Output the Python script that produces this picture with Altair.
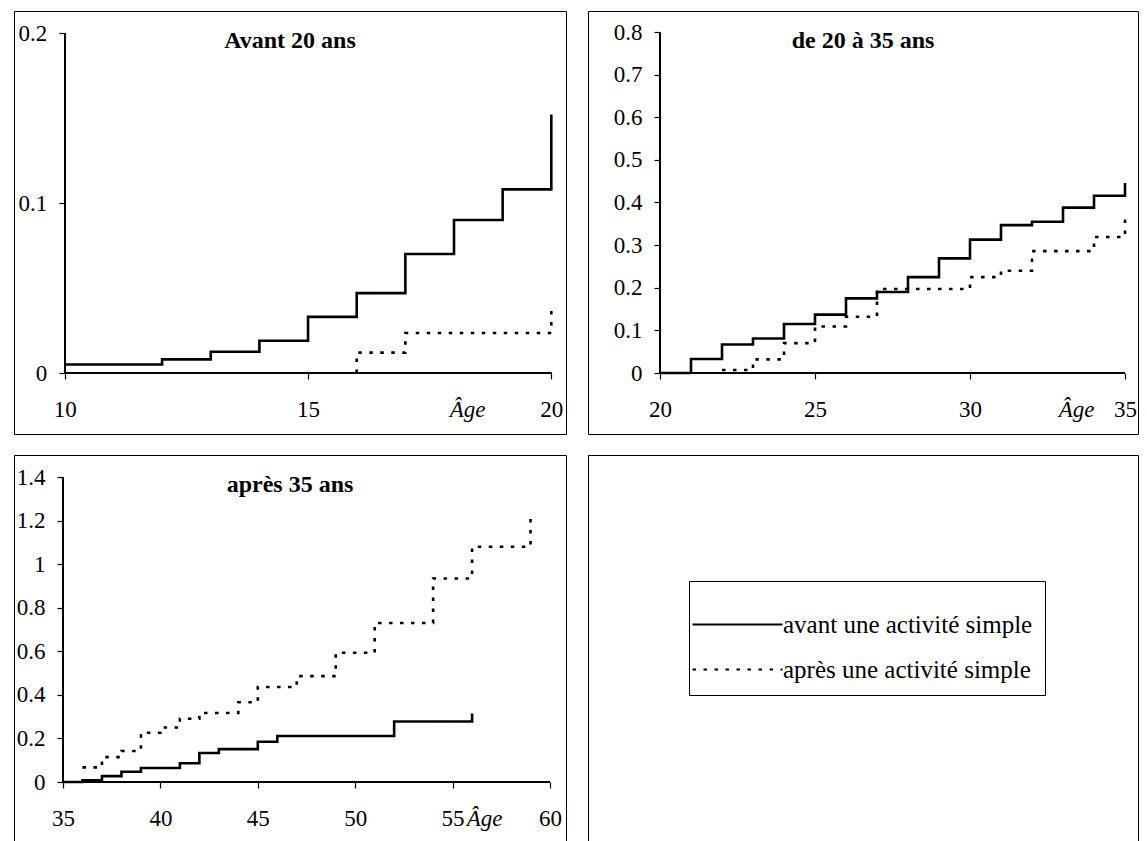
import altair as alt
import pandas as pd

SERIES = ["avant une activité simple", "après une activité simple"]
TITLES = ["Avant 20 ans", "de 20 à 35 ans", "après 35 ans"]

# Panel 1 : Avant 20 ans
p1_avant_x = [10, 12, 13, 14, 15, 16, 17, 18, 19, 20]
p1_avant_y = [0.005, 0.008, 0.0125, 0.019, 0.033, 0.047, 0.070, 0.090, 0.108, 0.152]
p1_apres_x = [16, 16, 17, 20]
p1_apres_y = [0.0, 0.012, 0.0235, 0.039]
p1_xticks = [10, 15, 20]
p1_yticks = [0, 0.1, 0.2]

# Panel 2 : de 20 à 35 ans
p2_avant_x = [20, 21, 22, 23, 24, 25, 26, 27, 28, 29, 30, 31, 32, 33, 34, 35]
p2_avant_y = [0.0, 0.033, 0.067, 0.081, 0.115, 0.137, 0.175, 0.190, 0.225, 0.269,
              0.313, 0.347, 0.355, 0.388, 0.416, 0.446]
p2_apres_x = [22, 23, 24, 25, 26, 27, 30, 31, 32, 34, 35]
p2_apres_y = [0.007, 0.032, 0.070, 0.109, 0.132, 0.197, 0.225, 0.240, 0.286, 0.319, 0.374]
p2_xticks = [20, 25, 30, 35]
p2_yticks = [0, 0.1, 0.2, 0.3, 0.4, 0.5, 0.6, 0.7, 0.8]

# Panel 3 : après 35 ans
p3_avant_x = [35, 36, 37, 38, 39, 41, 42, 43, 45, 46, 52, 56]
p3_avant_y = [0.0, 0.008, 0.027, 0.047, 0.064, 0.086, 0.133, 0.151, 0.185, 0.211, 0.278, 0.315]
p3_apres_x = [36, 37, 38, 39, 40, 41, 42, 44, 45, 47, 49, 51, 54, 56, 59]
p3_apres_y = [0.067, 0.114, 0.142, 0.226, 0.250, 0.290, 0.317, 0.366, 0.436, 0.486,
              0.593, 0.730, 0.934, 1.080, 1.208]
p3_xticks = [35, 40, 45, 50, 55, 60]
p3_yticks = [0, 0.2, 0.4, 0.6, 0.8, 1.0, 1.2, 1.4]

FONT = "Liberation Serif"


def make_df(ax, ay, px, py):
    rows = []
    for i, (x, y) in enumerate(zip(ax, ay)):
        rows.append({"age": x, "val": y, "serie": SERIES[0], "ord": i})
    for i, (x, y) in enumerate(zip(px, py)):
        rows.append({"age": x, "val": y, "serie": SERIES[1], "ord": i})
    return pd.DataFrame(rows)


def domain(v0, p0, v1, p1, size):
    k = (p1 - p0) / (v1 - v0)
    return [v0 - p0 / k, v0 + (size - p0) / k]


LEGEND = alt.Legend(
    title=None, orient="none", legendX=675, legendY=570,
    strokeColor="black", fillColor="white", padding=12, cornerRadius=0,
    symbolType="M-1.5,0H1.5", symbolSize=3600, symbolStrokeWidth=2.2,
    symbolStrokeColor="black", symbolOffset=5,
    labelFont=FONT, labelFontSize=25,
    labelColor="black", labelOffset=14, rowPadding=-19, labelLimit=500,
)
DASH = alt.StrokeDash("serie:N", scale=alt.Scale(domain=SERIES, range=[[1, 0], [3.5, 7.5]]),
                      legend=LEGEND)


def panel(df, title, xt, yt, w, h, xp, yp, xoff, yoff, agex):
    xs = alt.Scale(domain=domain(xt[0], xp[0], xt[-1], xp[1], w), nice=False, zero=False)
    ys = alt.Scale(domain=domain(yt[0], yp[0], yt[-1], yp[1], h), nice=False, zero=False)
    lines = alt.Chart(df).mark_line(
        interpolate="step-after", color="black", strokeWidth=2.6, strokeCap="butt"
    ).encode(
        x=alt.X("age:Q", scale=xs,
                axis=alt.Axis(values=xt, offset=xoff, format="~g", title="Âge",
                              titleX=agex, titleY=25, titleBaseline="top",
                              titleAlign="center", titleFontStyle="italic",
                              titleFontWeight="normal", labelFlush=False,
                              labelOverlap=False)),
        y=alt.Y("val:Q", scale=ys,
                axis=alt.Axis(values=yt, offset=yoff, format="~g", title=None,
                              labelFlush=False, labelOverlap=False)),
        strokeDash=DASH,
        order="ord:Q",
    )
    xline = alt.Chart(df).mark_rule(color="black", strokeWidth=1.2).encode(
        x=alt.datum(xt[0]), x2=alt.datum(xt[-1]), y=alt.datum(yt[0]))
    yline = alt.Chart(df).mark_rule(color="black", strokeWidth=1.2).encode(
        x=alt.datum(xt[0]), y=alt.datum(yt[0]), y2=alt.datum(yt[-1]))
    return alt.layer(xline, yline, lines).properties(
        width=w, height=h,
        title=alt.TitleParams(title, font=FONT, fontSize=24, fontWeight="bold",
                              color="black", anchor="middle", offset=-42),
    )


df1 = make_df(p1_avant_x, p1_avant_y, p1_apres_x, p1_apres_y)
df2 = make_df(p2_avant_x, p2_avant_y, p2_apres_x, p2_apres_y)
df3 = make_df(p3_avant_x, p3_avant_y, p3_apres_x, p3_apres_y)

c1 = panel(df1, TITLES[0], p1_xticks, p1_yticks, 552, 423, (50.8, 537.3), (61, 401), -61, -50.8, 453)
c2 = panel(df2, TITLES[1], p2_xticks, p2_yticks, 550, 423, (72, 537), (61, 402), -61, -72, 488)
c3 = panel(df3, TITLES[2], p3_xticks, p3_yticks, 552, 386, (49, 536), (59, 364), -59, -49, 470)

c4 = alt.Chart(df3).mark_line(opacity=0).encode(
    x=alt.X("age:Q", axis=None),
    y=alt.Y("val:Q", axis=None),
    strokeDash=DASH,
    order="ord:Q",
).properties(width=550, height=386)

chart = alt.vconcat(
    alt.hconcat(c1, c2, spacing=20),
    alt.hconcat(c3, c4, spacing=20),
    spacing=19,
).properties(
    padding={"left": 5, "top": 2, "right": 0, "bottom": 0},
    background="white",
).configure_view(
    stroke="black", strokeWidth=1
).configure_axis(
    grid=False, domain=False, tickColor="black", tickSize=6, tickWidth=1.2,
    labelFont=FONT, labelFontSize=23, labelColor="black",
    titleFont=FONT, titleFontSize=23, titleColor="black",
).configure_axisX(
    labelPadding=19
).configure_axisY(
    labelPadding=12
)

chart.save("out.html", embed_options={"renderer": "svg", "actions": False})
